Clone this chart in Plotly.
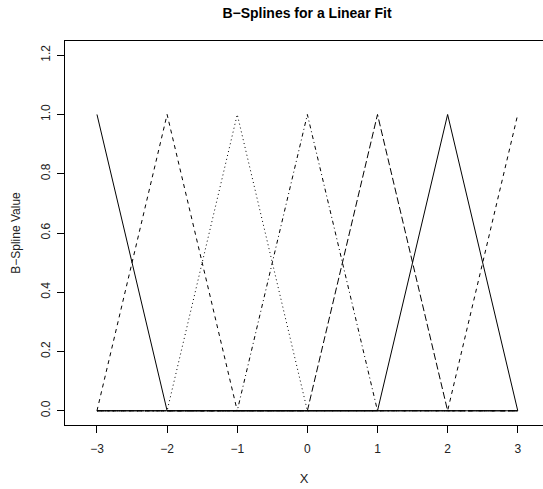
import plotly.graph_objects as go

# Knot positions and degree-1 B-spline basis values evaluated at those knots
knots = [-3, -2, -1, 0, 1, 2, 3]
basis_1 = [1, 0, 0, 0, 0, 0, 0]
basis_2 = [0, 1, 0, 0, 0, 0, 0]
basis_3 = [0, 0, 1, 0, 0, 0, 0]
basis_4 = [0, 0, 0, 1, 0, 0, 0]
basis_5 = [0, 0, 0, 0, 1, 0, 0]
basis_6 = [0, 0, 0, 0, 0, 1, 0]
basis_7 = [0, 0, 0, 0, 0, 0, 1]

x_ticks = [-3, -2, -1, 0, 1, 2, 3]
x_tick_text = ["\u22123", "\u22122", "\u22121", "0", "1", "2", "3"]
y_ticks = [0.0, 0.2, 0.4, 0.6, 0.8, 1.0, 1.2]
y_tick_text = ["0.0", "0.2", "0.4", "0.6", "0.8", "1.0", "1.2"]

series = [basis_1, basis_2, basis_3, basis_4, basis_5, basis_6, basis_7]
# line types cycle: solid, dashed, dotted, dot-dash, long-dash
dashes = ["solid", "4px,4px", "1px,3px", "1px,3px,4px,3px", "7px,3px"]

FONT = "Liberation Sans, Arial, Helvetica, sans-serif"

fig = go.Figure()
for i, ys in enumerate(series):
    fig.add_trace(go.Scatter(
        x=knots, y=ys, mode="lines",
        line=dict(color="black", width=1, dash=dashes[i % len(dashes)]),
        showlegend=False, hoverinfo="skip",
    ))

fig.update_layout(
    width=543, height=489,
    margin=dict(l=65, r=0, t=41, b=64),
    paper_bgcolor="white", plot_bgcolor="white",
    font=dict(family=FONT, size=12, color="black"),
    title=dict(
        text="<b>B\u2212Splines for a Linear Fit</b>",
        x=(307 - 65) / 478, xref="paper", xanchor="center",
        y=1 - 13 / 489, yref="container", yanchor="middle",
        font=dict(family=FONT, size=14, color="black"),
    ),
)
fig.update_xaxes(
    range=[-3.456, 3.36], showgrid=False, zeroline=False,
    showline=True, linecolor="black", linewidth=1, mirror=True,
    ticks="outside", ticklen=7, tickcolor="black", tickwidth=1,
    tickvals=x_ticks, ticktext=x_tick_text, ticklabelstandoff=6,
    tickfont=dict(family=FONT, size=12, color="#222"),
    title=dict(text="X", standoff=18, font=dict(family=FONT, size=13, color="#222")),
)
fig.update_yaxes(
    range=[-0.048, 1.248], showgrid=False, zeroline=False,
    showline=True, linecolor="black", linewidth=1, mirror=False,
    ticks="outside", ticklen=7, tickcolor="black", tickwidth=1,
    tickvals=y_ticks, ticktext=y_tick_text, tickangle=-90, ticklabelstandoff=2,
    tickfont=dict(family=FONT, size=12, color="#222"),
    title=dict(text="B\u2212Spline Value", standoff=16, font=dict(family=FONT, size=12, color="#222")),
)

fig.write_html("out.html")
